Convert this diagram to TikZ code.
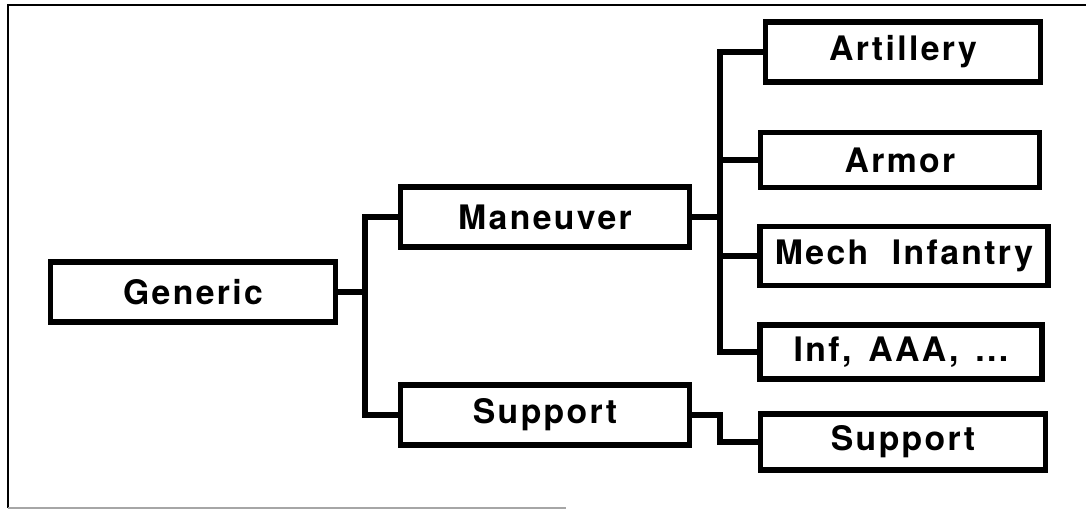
\documentclass[tikz,border=0pt]{standalone}
\usepackage{fontspec}
\setmainfont{TeX Gyre Heros}[LetterSpace=7]
\usepackage{tikz}

\begin{document}
\begin{tikzpicture}[x=0.025cm, y=-0.025cm,
    box/.style={draw, line width=4pt, inner sep=0pt,
                font=\fontsize{24}{28}\selectfont\bfseries},
    link/.style={line width=3.6pt, line join=miter}]

  \useasboundingbox (0,0) rectangle (1086,510);

  % outer frame (right side missing, bottom faint)
  \draw[line width=1.5pt] (1086,5) -- (8,5) -- (8,508);
  \draw[gray!70, line width=1.2pt] (8,508) -- (566,508);

  % class boxes
  \node[box, minimum width=7.125cm, minimum height=1.5cm]   (gen)  at (193,292) {Generic};
  \node[box, minimum width=7.225cm, minimum height=1.5cm]   (man)  at (545,217) {Maneuver};
  \node[box, minimum width=7.225cm, minimum height=1.5cm]   (sup)  at (545,415) {Support};
  \node[box, minimum width=6.875cm, minimum height=1.5cm]   (art)  at (903,52)  {Artillery};
  \node[box, minimum width=6.975cm, minimum height=1.375cm] (arm)  at (900,160) {Armor};
  \node[box, minimum width=7.2cm,   minimum height=1.475cm] (mech) at (904,256) {Mech\hspace{0.7em}Infantry};
  \node[box, minimum width=7.05cm,  minimum height=1.35cm]  (inf)  at (901,352) {Inf,\hspace{0.5em}AAA,\hspace{0.5em}...};
  \node[box, minimum width=7.125cm, minimum height=1.4cm]   (sup2) at (903,442) {Support};

  % junction points
  \coordinate (j1) at (365,292);
  \coordinate (j2) at (720,217);
  \coordinate (j3) at (720,442);

  % tree connectors
  \draw[link] (gen.east) -- (j1);
  \draw[link] (man.west) -| (j1) |- (sup.west);
  \draw[link] (man.east) -- (j2);
  \draw[link] (art.west) -| (j2) |- (inf.west);
  \draw[link] (arm.west) -- (arm.west -| j2);
  \draw[link] (mech.west) -- (mech.west -| j2);
  \draw[link] (sup.east) -| (j3) -- (sup2.west);

\end{tikzpicture}
\end{document}
